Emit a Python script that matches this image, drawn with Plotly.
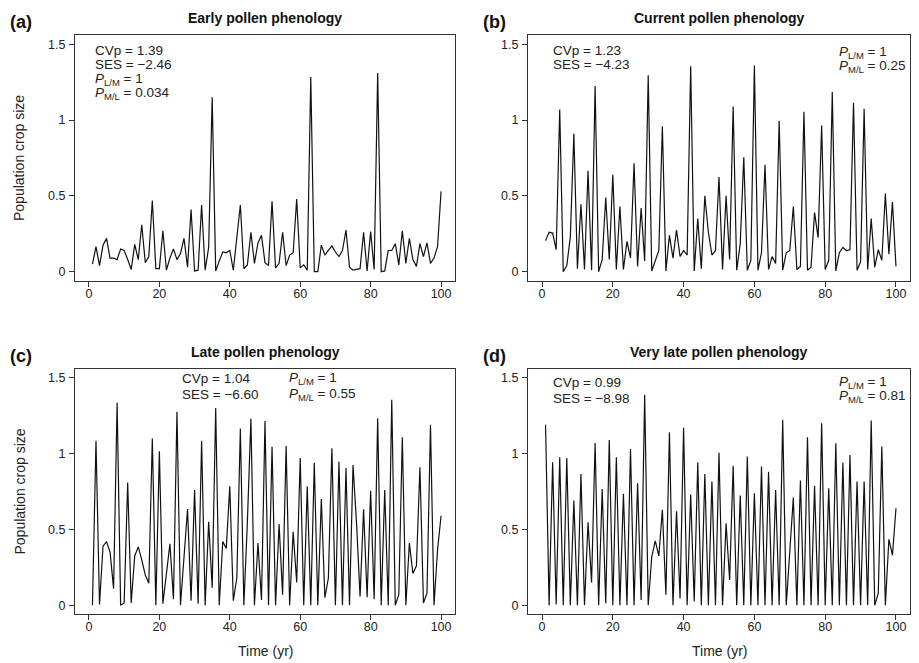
import plotly.graph_objects as go

years = list(range(1, 101))

early = [0.05, 0.165, 0.04, 0.175, 0.22, 0.09, 0.09, 0.08, 0.15, 0.14,
         0.08, 0.015, 0.18, 0.08, 0.31, 0.06, 0.10, 0.47, 0.02, 0.02,
         0.27, 0.01, 0.09, 0.15, 0.08, 0.12, 0.22, 0.03, 0.41, 0.005,
         0.01, 0.44, 0.01, 0.16, 1.15, 0.005, 0.07, 0.13, 0.125, 0.14,
         0.01, 0.22, 0.44, 0.02, 0.045, 0.26, 0.055, 0.19, 0.24, 0.06,
         0.04, 0.465, 0.025, 0.055, 0.26, 0.04, 0.11, 0.125, 0.48, 0.025,
         0.045, 0.01, 1.285, 0.0, 0.0, 0.175, 0.11, 0.14, 0.17, 0.13,
         0.10, 0.14, 0.275, 0.03, 0.01, 0.015, 0.02, 0.26, 0.005, 0.265,
         0.015, 1.31, 0.0, 0.005, 0.14, 0.14, 0.185, 0.045, 0.27, 0.055,
         0.22, 0.08, 0.035, 0.185, 0.10, 0.19, 0.055, 0.09, 0.165, 0.53]

current = [0.205, 0.26, 0.255, 0.145, 1.07, 0.0, 0.04, 0.23, 0.91, 0.02,
           0.445, 0.015, 0.665, 0.01, 1.225, 0.0, 0.08, 0.49, 0.08, 0.64,
           0.015, 0.43, 0.015, 0.2, 0.09, 0.715, 0.035, 0.42, 0.07, 1.295,
           0.005, 0.075, 0.14, 0.96, 0.005, 0.24, 0.09, 0.275, 0.10, 0.14,
           0.11, 1.355, 0.005, 0.35, 0.02, 0.50, 0.26, 0.11, 0.14, 0.625,
           0.015, 0.50, 0.08, 1.09, 0.01, 0.185, 0.755, 0.01, 0.075, 1.36,
           0.01, 0.125, 0.705, 0.015, 0.10, 0.055, 0.995, 0.01, 0.125, 0.14,
           0.43, 0.015, 0.035, 1.055, 0.01, 0.03, 0.39, 0.225, 0.965, 0.015,
           0.075, 1.185, 0.005, 0.125, 0.16, 0.14, 0.145, 1.115, 0.01, 0.065,
           1.075, 0.015, 0.35, 0.03, 0.145, 0.075, 0.515, 0.115, 0.46, 0.035]

late = [0.0, 1.085, 0.005, 0.39, 0.42, 0.35, 0.11, 1.335, 0.0, 0.015,
        0.81, 0.015, 0.325, 0.385, 0.30, 0.20, 0.145, 1.10, 0.0, 1.015,
        0.01, 0.205, 0.405, 0.04, 1.275, 0.0, 0.30, 0.635, 0.03, 0.76,
        0.01, 1.085, 0.0, 0.55, 0.115, 1.30, 0.0, 0.42, 0.375, 0.785,
        0.03, 0.18, 1.165, 0.0, 0.55, 1.23, 0.0, 0.41, 0.035, 1.215,
        0.0, 1.045, 0.0, 0.535, 0.07, 1.05, 0.0, 0.485, 0.15, 0.97,
        0.0, 0.785, 0.0, 0.94, 0.0, 0.70, 0.05, 0.18, 1.035, 0.0,
        0.947, 0.0, 0.905, 0.0, 0.925, 0.54, 0.057, 0.633, 0.053, 0.755,
        0.04, 1.233, 0.0, 0.76, 0.0, 1.355, 0.0, 0.07, 1.108, 0.0,
        0.41, 0.21, 0.26, 0.91, 0.015, 0.08, 1.19, 0.0, 0.365, 0.59]

very_late = [1.19, 0.0, 0.943, 0.005, 0.975, 0.0, 0.97, 0.0, 0.69, 0.0,
             0.865, 0.0, 0.547, 0.15, 1.07, 0.0, 0.767, 0.013, 1.09, 0.0,
             0.975, 0.0, 0.735, 0.0, 1.03, 0.0, 0.805, 0.035, 1.387, 0.0,
             0.32, 0.425, 0.325, 0.63, 0.07, 1.14, 0.0, 0.62, 0.045, 1.17,
             0.0, 0.73, 0.025, 0.943, 0.0, 0.866, 0.0, 0.815, 0.0, 1.005,
             0.0, 0.54, 0.167, 0.92, 0.0, 0.723, 0.0, 0.98, 0.0, 0.738,
             0.0, 0.914, 0.0, 0.88, 0.0, 0.76, 0.0, 1.222, 0.0, 0.35,
             0.71, 0.0, 0.822, 0.0, 1.107, 0.0, 0.787, 0.0, 1.20, 0.0,
             0.771, 0.0, 1.068, 0.0, 0.94, 0.0, 0.991, 0.0, 0.815, 0.0,
             0.815, 0.0, 1.218, 0.0, 0.08, 1.046, 0.0, 0.435, 0.33, 0.64]

panel_letters = ["(a)", "(b)", "(c)", "(d)"]
panel_titles = ["Early pollen phenology", "Current pollen phenology",
                "Late pollen phenology", "Very late pollen phenology"]
cvp_labels = ["CVp = 1.39", "CVp = 1.23", "CVp = 1.04", "CVp = 0.99"]
ses_labels = ["SES = \u22122.46", "SES = \u22124.23", "SES = \u22126.60", "SES = \u22128.98"]
plm_labels = ["1", "1", "1", "1"]
pml_labels = ["0.034", "0.25", "0.55", "0.81"]
x_ticks = [0, 20, 40, 60, 80, 100]
y_ticks = [0, 0.5, 1, 1.5]
y_ticklabels = ["0", "0.5", "1", "1.5"]

# page body has an 8 px margin; the figure fills the rest of the window
OFF = 8
W, H = 919 - OFF, 663 - OFF
FONT = "Liberation Sans, Arial, Helvetica, sans-serif"

def px(x):
    return (x - OFF) / W

def py(y):
    return 1 - (y - OFF) / H

# panel boxes in window pixels: (left, right, top, bottom)
boxes = [(75, 455, 35.2, 280.8), (528, 910, 35.2, 280.8),
         (75, 455, 368.6, 614.4), (528, 910, 368.6, 614.4)]
series = [early, current, late, very_late]

fig = go.Figure()
layout = dict(width=W, height=H, margin=dict(l=0, r=0, t=0, b=0),
              paper_bgcolor="white", plot_bgcolor="white", showlegend=False,
              font=dict(family=FONT, color="#222", size=12))
annotations = []

for i, (b, ys) in enumerate(zip(boxes, series)):
    n = "" if i == 0 else str(i + 1)
    fig.add_trace(go.Scatter(x=years, y=ys, mode="lines",
                             line=dict(color="#111", width=1.2),
                             xaxis="x" + n, yaxis="y" + n, hoverinfo="skip"))
    l, r, t, bt = b
    layout["xaxis" + n] = dict(domain=[px(l), px(r)], anchor="y" + n,
                               range=[-3.96, 103.96], tickvals=x_ticks,
                               ticks="outside", ticklen=5, tickwidth=1, tickcolor="#333",
                               ticklabelstandoff=-4,
                               showline=True, linecolor="#333", linewidth=1, mirror=True,
                               showgrid=False, zeroline=False,
                               tickfont=dict(size=12.5, color="#222", family=FONT))
    layout["yaxis" + n] = dict(domain=[py(bt), py(t)], anchor="x" + n,
                               range=[-0.06, 1.56], tickvals=y_ticks, ticktext=y_ticklabels,
                               ticks="outside", ticklen=5, tickwidth=1, tickcolor="#333",
                               ticklabelstandoff=1,
                               showline=True, linecolor="#333", linewidth=1, mirror=True,
                               showgrid=False, zeroline=False,
                               tickfont=dict(size=12.5, color="#222", family=FONT))
    cx = (l + r) / 2
    annotations.append(dict(x=px(cx), y=py(t - 17), xref="paper", yref="paper",
                            text="<b>" + panel_titles[i] + "</b>", showarrow=False,
                            font=dict(size=14, family=FONT, color="#111"),
                            xanchor="center", yanchor="middle"))
    annotations.append(dict(x=px(l - 67 if i % 2 == 0 else l - 47), y=py(t - 13),
                            xref="paper", yref="paper",
                            text="<b>" + panel_letters[i] + "</b>", showarrow=False,
                            font=dict(size=18, family=FONT, color="#111"),
                            xanchor="left", yanchor="middle"))

def txt(x, y, s):
    annotations.append(dict(x=px(x), y=py(y), xref="paper", yref="paper", text=s,
                            showarrow=False, xanchor="left", yanchor="middle",
                            font=dict(size=13.5, family=FONT, color="#222")))

def plm(v):
    return "<i>P</i><sub>L/M</sub> = " + v

def pml(v):
    return "<i>P</i><sub>M/L</sub> = " + v

# (a)
txt(93, 50, cvp_labels[0]); txt(93, 64.5, ses_labels[0])
txt(93, 79, plm(plm_labels[0])); txt(93, 93.5, pml(pml_labels[0]))
# (b)
txt(551, 50, cvp_labels[1]); txt(551, 64.5, ses_labels[1])
txt(837, 52, plm(plm_labels[1])); txt(837, 66, pml(pml_labels[1]))
# (c)
txt(180, 378, cvp_labels[2]); txt(180, 394, ses_labels[2])
txt(287, 378, plm(plm_labels[2])); txt(287, 394, pml(pml_labels[2]))
# (d)
txt(551, 383, cvp_labels[3]); txt(551, 399, ses_labels[3])
txt(837, 382, plm(plm_labels[3])); txt(837, 396, pml(pml_labels[3]))

for (l, r, t, bt) in [boxes[0], boxes[2]]:
    annotations.append(dict(x=px(19), y=py((t + bt) / 2), xref="paper", yref="paper",
                            text="Population crop size", textangle=-90, showarrow=False,
                            font=dict(size=14, family=FONT, color="#222"),
                            xanchor="center", yanchor="middle"))
for (l, r, t, bt) in [boxes[2], boxes[3]]:
    annotations.append(dict(x=px((l + r) / 2), y=py(651), xref="paper", yref="paper",
                            text="Time (yr)", showarrow=False,
                            font=dict(size=14, family=FONT, color="#222"),
                            xanchor="center", yanchor="middle"))

layout["annotations"] = annotations
fig.update_layout(**layout)
fig.write_html("out.html")
